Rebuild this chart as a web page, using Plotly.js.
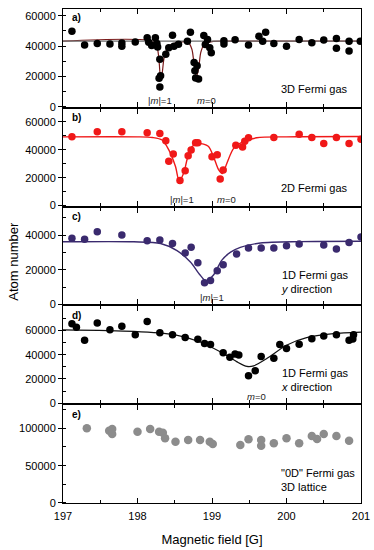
<!DOCTYPE html>
<html>
<head>
<meta charset="utf-8">
<script src="https://cdn.plot.ly/plotly-3.0.1.min.js"></script>
<style>
body{margin:0;background:#fff;}
#chart{width:374px;height:550px;}
</style>
</head>
<body>
<div id="chart"></div>
<script>
"use strict";

//DATA - panel a) 3D Fermi gas
const aField = [197.12,197.29,197.46,197.63,197.79,197.79,197.97,198.13,198.15,198.19,198.24,198.26,198.27,198.30,198.31,198.29,198.30,198.38,198.42,198.47,198.49,198.55,198.67,198.71,198.76,198.77,198.78,198.82,198.80,198.89,198.91,198.94,198.97,198.99,199.16,199.16,199.31,199.49,199.63,199.68,199.72,199.83,200.00,200.17,200.34,200.50,200.67,200.67,200.84,200.84,200.99];
const aAtoms = [49800,40700,41800,41400,42000,39900,42700,45500,42600,40500,45500,41800,39500,31400,20500,18800,13000,34600,39000,47200,40000,41200,43300,49100,29200,23800,19000,18400,27000,47000,41100,44400,39000,35700,43500,41500,44200,40700,46600,43300,49200,41800,40000,44400,42200,44000,45000,38600,43300,36800,43300];
const aFitField = [197,198.2,198.26,198.29,198.31,198.33,198.36,198.42,198.55,198.68,198.73,198.76,198.79,198.82,198.85,198.9,199.0,199.2,201];
const aFitAtoms = [43300,43300,40000,30000,19000,22000,33000,40000,42500,42500,38000,28000,20000,25000,36000,41500,43000,43300,43300];
const aBaseField = [197,201];
const aBaseAtoms = [43300,43300];

//panel b) 2D Fermi gas
const bField = [197.12,197.46,197.79,198.13,198.30,198.38,198.42,198.48,198.57,198.64,198.68,198.72,198.78,198.81,199.00,199.07,199.11,199.15,199.32,199.41,199.44,199.49,199.83,200.17,200.34,200.50,200.67,200.84,201.0];
const bAtoms = [49300,52900,52900,52200,51600,46500,31800,37000,18000,25000,35700,39900,45000,45000,35000,36500,19000,25600,43200,42000,46100,48700,48900,51200,48900,44600,48900,44600,47500];
const bFitField = [197,198.0,198.2,198.33,198.42,198.51,198.56,198.62,198.67,198.73,198.82,198.95,199.02,199.09,199.14,199.2,199.29,199.41,199.6,200,201];
const bFitAtoms = [49300,49300,48800,47000,40000,28000,17500,23300,34000,42200,44600,42500,35100,25600,23000,30400,41000,45700,48600,49300,49500];

//panel c) 1D Fermi gas, y direction
const cField = [197.12,197.29,197.46,197.79,198.13,198.30,198.47,198.64,198.72,198.81,198.90,198.98,199.07,199.15,199.33,199.49,199.66,199.83,200.00,200.17,200.50,200.67,200.84,201.0];
const cAtoms = [38300,37700,42000,40200,36800,37200,35300,29800,33000,24100,12600,13800,19400,23000,29200,32600,32600,32600,34000,34900,34300,32100,35800,39000];
const cFitField = [197,197.95,198.31,198.53,198.71,198.84,198.92,199.02,199.13,199.25,199.38,199.65,200.18,201];
const cFitAtoms = [36200,36200,35200,31100,24500,17000,13600,17000,25500,30200,33000,35500,36300,36500];

//panel d) 1D Fermi gas, x direction
const dField = [197.12,197.18,197.29,197.46,197.63,197.79,197.97,198.13,198.30,198.47,198.64,198.81,198.90,198.98,199.15,199.24,199.31,199.36,199.49,199.58,199.66,199.83,199.91,200.00,200.17,200.34,200.50,200.67,200.84,200.89,200.90];
const dAtoms = [65400,62700,51900,66200,60500,63500,56500,67300,58100,56500,54100,52700,49200,48400,41600,37800,40500,39700,22700,26800,38400,37000,48400,45100,48600,53200,55400,56500,51900,53000,56500];
const dFitField = [197,197.95,198.49,198.84,199.11,199.33,199.47,199.56,199.74,200.0,200.27,200.63,201];
const dFitAtoms = [60500,59200,56500,50500,42400,34300,30300,30800,37000,47800,54100,57300,58600];

//panel e) "0D" Fermi gas, 3D lattice
const eField = [197.32,197.62,197.66,197.66,198.00,198.17,198.29,198.34,198.37,198.51,198.68,198.84,198.97,199.01,199.38,199.49,199.66,199.66,199.83,200.00,200.17,200.34,200.41,200.50,200.67,200.84];
const eAtoms = [100000,96800,99000,92400,95500,99000,95500,94100,86600,82100,84400,84400,82100,79000,77700,85300,84400,76800,80000,86600,80000,89700,85700,92400,89700,83400];

const yTop = [64500, 69400, 56000, 79800, 131000];
const yStep = [20000, 20000, 20000, 20000, 50000];
const panelTags = ["a)", "b)", "c)", "d)", "e)"];
const panelNames = ["3D Fermi gas", "2D Fermi gas", "1D Fermi gas<br><i>y</i> direction", "1D Fermi gas<br><i>x</i> direction", "\"0D\" Fermi gas<br>3D lattice"];

//STYLE
const FONT = "Liberation Sans, Arial, sans-serif";
const dotSize = 7.5;

function dots(x, y, n, color, size){
	return {
		x: x, y: y,
		xaxis: 'x' + (n == 1 ? '' : n), yaxis: 'y' + (n == 1 ? '' : n),
		mode: 'markers', type: 'scatter',
		marker: {color: color, size: size || dotSize},
		hoverinfo: 'skip'
	};
}

function curve(x, y, n, color, width){
	return {
		x: x, y: y,
		xaxis: 'x' + (n == 1 ? '' : n), yaxis: 'y' + (n == 1 ? '' : n),
		mode: 'lines', type: 'scatter',
		line: {color: color, width: width || 1.3, shape: 'spline', smoothing: 0.8},
		hoverinfo: 'skip'
	};
}

const data = [
	curve(aFitField, aFitAtoms, 1, '#7a1c1c', 1.2),
	curve(aBaseField, aBaseAtoms, 1, '#6b6b6b', 1.3),
	dots(aField, aAtoms, 1, '#000000'),
	curve(bFitField, bFitAtoms, 2, '#f01818', 1.4),
	dots(bField, bAtoms, 2, '#f01818'),
	curve(cFitField, cFitAtoms, 3, '#3a2a6e', 1.4),
	dots(cField, cAtoms, 3, '#3a2a6e'),
	curve(dFitField, dFitAtoms, 4, '#111111', 1.2),
	dots(dField, dAtoms, 4, '#000000'),
	dots(eField, eAtoms, 5, '#8c8c8c', 8.5)
];

const layout = {
	width: 374, height: 550,
	margin: {l: 63, r: 13, t: 9, b: 47},
	showlegend: false,
	paper_bgcolor: '#fff', plot_bgcolor: '#fff',
	font: {family: FONT, size: 11, color: '#000'},
	annotations: []
};

const n = 5, gap = 0.002;
for(let i = 1; i <= n; i++){
	const s = (i == 1 ? '' : i);
	const lo = (n - i) / n, hi = (n - i + 1) / n;
	layout['xaxis' + s] = {
		range: [197, 201],
		anchor: 'y' + s,
		dtick: 1, tick0: 197,
		ticks: 'inside', ticklen: 5, tickwidth: 1, tickcolor: '#000',
		minor: {dtick: 0.5, ticks: 'inside', ticklen: 3, tickcolor: '#000'},
		showline: true, linecolor: '#000', linewidth: 1, mirror: 'ticks',
		showgrid: false, zeroline: false,
		showticklabels: i == n,
		ticklabelstandoff: 3,
		tickfont: {size: 11, family: FONT},
		title: i == n ? {text: 'Magnetic field [G]', font: {size: 13, family: FONT}, standoff: 13} : undefined
	};
	if(i > 1) layout['xaxis' + s].matches = 'x';
	layout['yaxis' + s] = {
		domain: [lo + (i == n ? 0 : gap), hi - (i == 1 ? 0 : gap)],
		anchor: 'x' + s,
		range: [0, yTop[i-1]],
		dtick: yStep[i-1], tick0: 0,
		ticks: 'outside', ticklen: 4, tickcolor: '#000',
		minor: {dtick: yStep[i-1] / 2, ticks: 'inside', ticklen: 3, tickcolor: '#000'},
		showline: true, linecolor: '#000', linewidth: 1, mirror: true,
		showgrid: false, zeroline: false,
		tickformat: 'd',
		tickfont: {size: 11, family: FONT}
	};

	layout.annotations.push({
		text: '<b>' + panelTags[i-1] + '</b>',
		xref: 'x' + s + ' domain', yref: 'y' + s + ' domain',
		x: 0.025, y: 0.985, xanchor: 'left', yanchor: 'top',
		showarrow: false, font: {size: 10, family: FONT}
	});
	layout.annotations.push({
		text: panelNames[i-1],
		xref: 'x' + s + ' domain', yref: 'y' + s + ' domain',
		x: 0.725, y: i == 1 || i == 2 ? 0.1 : 0.08, xanchor: 'left', yanchor: 'bottom',
		align: 'left', showarrow: false, font: {size: 11, family: FONT}
	});
}

//dip labels
const dipLabels = [
	{t: '|<i>m</i>|=1', x: 198.3, p: 1},
	{t: '<i>m</i>=0', x: 198.92, p: 1},
	{t: '|<i>m</i>|=1', x: 198.6, p: 2},
	{t: '<i>m</i>=0', x: 199.2, p: 2},
	{t: '|<i>m</i>|=1', x: 199.0, p: 3},
	{t: '<i>m</i>=0', x: 199.6, p: 4}
];
dipLabels.forEach(d => {
	const s = (d.p == 1 ? '' : d.p);
	layout.annotations.push({
		text: d.t, x: d.x, xref: 'x' + s,
		y: -0.01, yref: 'y' + s + ' domain', yanchor: 'bottom',
		showarrow: false, font: {size: 9.5, family: FONT, color: '#222'}
	});
});

layout.annotations.push({
	text: 'Atom number', textangle: -90,
	xref: 'paper', yref: 'paper', x: -0.165, y: 0.49,
	xanchor: 'center', yanchor: 'middle',
	showarrow: false, font: {size: 13, family: FONT}
});

Plotly.newPlot('chart', data, layout, {staticPlot: true, displayModeBar: false});
</script>
</body>
</html>
